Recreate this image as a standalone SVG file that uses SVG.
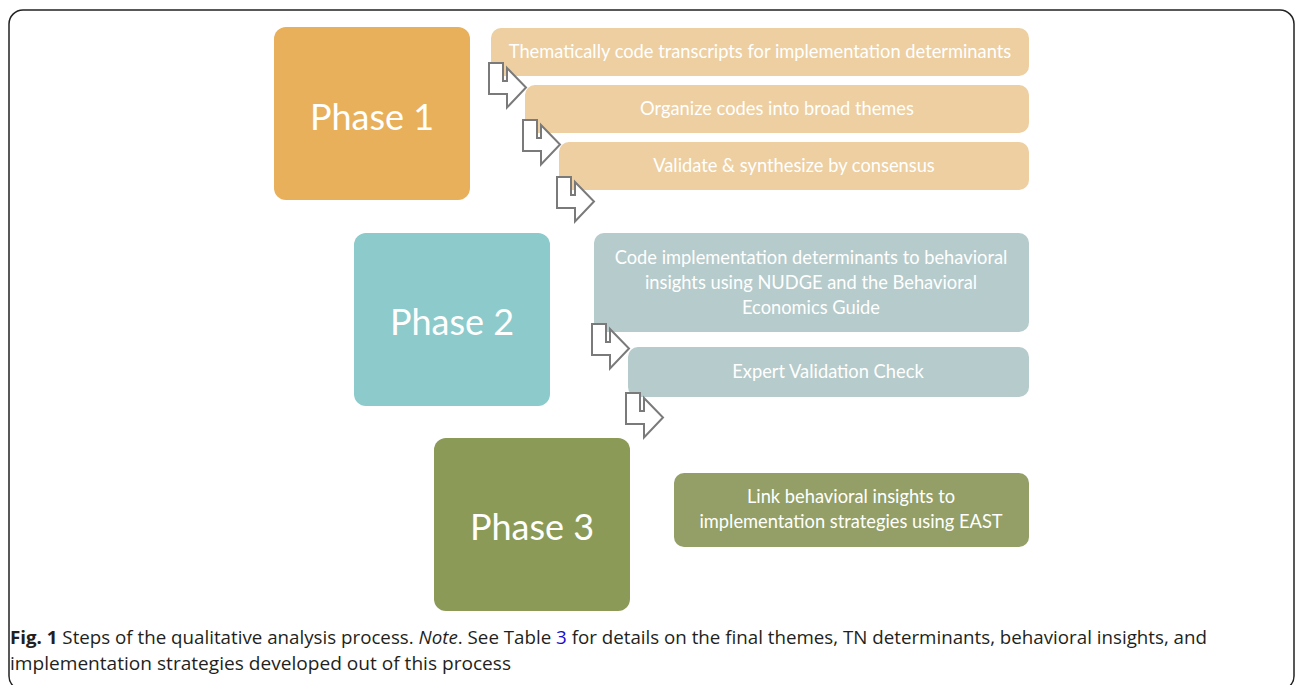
<svg xmlns="http://www.w3.org/2000/svg" width="1296" height="685" viewBox="0 0 1296 685">
<defs>
<style>
.ph{font-family:Lato,"Open Sans",sans-serif;font-size:36px;fill:#fff;text-anchor:middle}
.tk{font-family:Lato,"Open Sans",sans-serif;font-size:18.3px;fill:#fff;text-anchor:middle}
.arr{fill:#fff;stroke:#7a7a7a;stroke-width:2;stroke-linejoin:miter}
.cap{font-family:"Open Sans","Noto Sans",sans-serif;font-size:18.5px;fill:#231f20}
</style>
<path id="bent" d="M0,0 H14 V18 H18 V5 L37,24.5 L18,44.5 V31 H0 Z"/>
</defs>
<rect x="9" y="10" width="1285" height="680" rx="14" fill="#fff" stroke="#222" stroke-width="1.5"/>
<g id="phase1">
<rect x="274" y="27" width="196" height="173" rx="12" fill="#E8B05A"/>
<text class="ph" x="372" y="130">Phase 1</text>
</g>
<g id="step1">
<rect x="491" y="28" width="538" height="48" rx="10" fill="#EDCFA1"/>
<text class="tk" x="760" y="58">Thematically code transcripts for implementation determinants</text>
</g>
<g id="step2">
<rect x="525" y="85" width="504" height="48" rx="10" fill="#EDCFA1"/>
<text class="tk" x="777" y="115">Organize codes into broad themes</text>
</g>
<g id="step3">
<rect x="559" y="142" width="470" height="48" rx="10" fill="#EDCFA1"/>
<text class="tk" x="794" y="172">Validate &amp; synthesize by consensus</text>
</g>
<g id="phase2">
<rect x="354" y="233" width="196" height="173" rx="12" fill="#8CCACB"/>
<text class="ph" x="452" y="335">Phase 2</text>
</g>
<g id="step4">
<rect x="594" y="233" width="435" height="99" rx="10" fill="#B6CBCB"/>
<text class="tk" x="811" y="264">Code implementation determinants to behavioral</text>
<text class="tk" x="811" y="289">insights using NUDGE and the Behavioral</text>
<text class="tk" x="811" y="314">Economics Guide</text>
</g>
<g id="step5">
<rect x="628" y="347" width="401" height="50" rx="10" fill="#B6CBCB"/>
<text class="tk" x="828" y="378">Expert Validation Check</text>
</g>
<g id="phase3">
<rect x="434" y="438" width="196" height="173" rx="12" fill="#8B9A56"/>
<text class="ph" x="532" y="540">Phase 3</text>
</g>
<g id="step6">
<rect x="674" y="473" width="355" height="74" rx="10" fill="#939F66"/>
<text class="tk" x="851" y="503">Link behavioral insights to</text>
<text class="tk" x="851" y="528">implementation strategies using EAST</text>
</g>
<g id="connectors">
<use href="#bent" class="arr" x="489" y="63"/>
<use href="#bent" class="arr" x="523" y="120"/>
<use href="#bent" class="arr" x="557" y="177"/>
<use href="#bent" class="arr" x="592" y="324"/>
<use href="#bent" class="arr" x="626" y="393"/>
</g>
<g id="caption">
<text class="cap" x="10" y="644" textLength="1197" lengthAdjust="spacingAndGlyphs"><tspan font-weight="bold">Fig. 1</tspan> Steps of the qualitative analysis process. <tspan font-style="italic">Note</tspan>. See Table <tspan fill="#1a0dcc">3</tspan> for details on the final themes, TN determinants, behavioral insights, and</text>
<text class="cap" x="10" y="670" textLength="501" lengthAdjust="spacingAndGlyphs">implementation strategies developed out of this process</text>
</g>
</svg>
